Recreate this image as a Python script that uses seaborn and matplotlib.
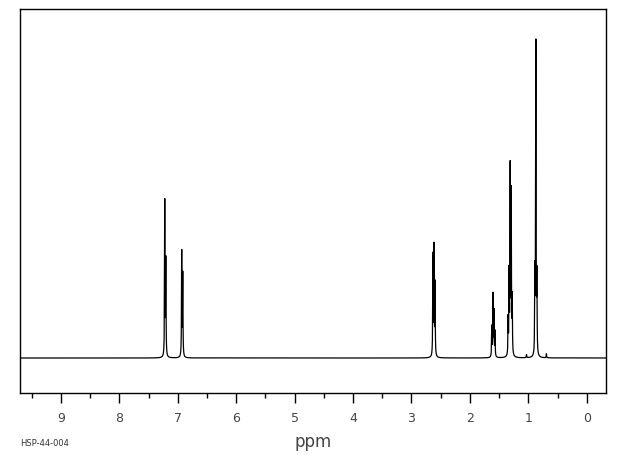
import numpy as np
import pandas as pd
import seaborn as sns
import matplotlib.pyplot as plt
from matplotlib.ticker import MultipleLocator

# Peak list: line positions (ppm) and heights (arbitrary units)
peak_ppm = [7.222, 7.204, 6.932, 6.914,
            2.632, 2.614, 2.596,
            1.625, 1.605, 1.588, 1.570,
            1.345, 1.328, 1.310, 1.292, 1.275,
            0.887, 0.870, 0.853,
            1.030, 0.690]
peak_height = [155, 95, 105, 82,
               100, 108, 72,
               30, 62, 45, 25,
               36, 80, 185, 160, 55,
               80, 311, 75,
               3, 4]
line_width = 0.004  # Lorentzian half width (ppm)

tick_values = [9, 8, 7, 6, 5, 4, 3, 2, 1, 0]
sample_code = "HSP-44-004"

# Build the spectrum trace from the peak list
ppm = np.linspace(-0.33, 9.70, 20001)
intensity = np.zeros_like(ppm)
for c, h in zip(peak_ppm, peak_height):
    intensity += h * line_width**2 / ((ppm - c)**2 + line_width**2)
spectrum = pd.DataFrame({"ppm": ppm, "intensity": intensity})

sns.set_theme(style="white")
plt.rcParams['font.family'] = ['DejaVu Sans']

fig = plt.figure(figsize=(6.2, 4.55), dpi=100)
ax = fig.add_axes([20/620, 1-393/455, 586/620, 384/455])

sns.lineplot(data=spectrum, x="ppm", y="intensity", ax=ax, color="black",
             linewidth=0.9, estimator=None, sort=False)

ax.set_xlim(9.70, -0.33)
ax.set_ylim(-35, 349)
for s in ax.spines.values():
    s.set_visible(True)
    s.set_color("black")
    s.set_linewidth(1.0)

ax.xaxis.set_major_locator(MultipleLocator(1))
ax.xaxis.set_minor_locator(MultipleLocator(0.5))
ax.set_xticks(tick_values)
ax.set_xticklabels([str(t) for t in tick_values], fontsize=9, color="#444444")
ax.tick_params(axis="x", which="major", direction="out", length=7.5, width=1,
               color="black", pad=6, bottom=True)
ax.tick_params(axis="x", which="minor", direction="out", length=3.8, width=1,
               color="black", bottom=True)
ax.set_yticks([])
ax.set_xlabel("ppm", fontsize=12, color="#444444", labelpad=6)
ax.set_ylabel("")

fig.text(20/620, 1-443/455, sample_code, fontsize=6, color="#333333",
         ha="left", va="center")

fig.savefig("out.png", dpi=100)
